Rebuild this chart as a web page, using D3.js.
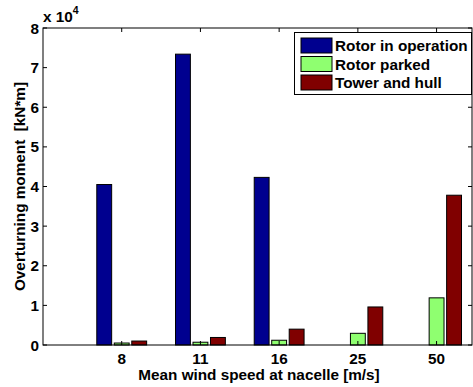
<!DOCTYPE html>
<html>
<head>
<meta charset="utf-8">
<script src="https://cdn.jsdelivr.net/npm/d3@7"></script>
<style>
  html, body { margin: 0; padding: 0; background: #fff; }
  svg { display: block; font-family: "Liberation Sans", Arial, Helvetica, sans-serif; font-weight: bold; }
</style>
</head>
<body>
<svg id="chart" width="473" height="387"></svg>
<script>
// ---- data (values in units of 10^4 kN*m) ----
const categories = ["8", "11", "16", "25", "50"];
const seriesNames = ["Rotor in operation", "Rotor parked", "Tower and hull"];
const rotorInOperation = [4.05, 7.34, 4.23, 0, 0];
const rotorParked = [0.05, 0.07, 0.12, 0.295, 1.19];
const towerAndHull = [0.10, 0.19, 0.40, 0.96, 3.78];
const yTicks = [0, 1, 2, 3, 4, 5, 6, 7, 8];
const colors = ["#00008f", "#8fff70", "#800000"];

const series = [rotorInOperation, rotorParked, towerAndHull];

const svg = d3.select("#chart");
const pL = 43, pR = 472, pT = 28, pB = 345;
const fs = 15.3;

const x = d3.scaleLinear().domain([0, 5.45]).range([pL, pR]);
const y = d3.scaleLinear().domain([0, 8]).range([pB, pT]);

const groupWidth = Math.min(0.8, 3 / (3 + 1.5));
const step = groupWidth / 3;
const barW = step * 0.85;

// bars
series.forEach((vals, si) => {
  svg.append("g").selectAll("rect").data(vals).join("rect")
    .attr("x", (d, i) => x(i + 1 + (si - 1) * step - barW / 2))
    .attr("width", x(barW) - x(0))
    .attr("y", d => y(d))
    .attr("height", d => y(0) - y(d))
    .attr("fill", colors[si])
    .attr("stroke", "#000")
    .attr("stroke-width", 1);
});

// axes box
svg.append("rect").attr("x", pL).attr("y", pT)
  .attr("width", pR - pL).attr("height", pB - pT)
  .attr("fill", "none").attr("stroke", "#000").attr("stroke-width", 1);

// y ticks (inward, both sides)
const tl = 4;
yTicks.forEach(t => {
  svg.append("line").attr("x1", pL).attr("x2", pL + tl)
    .attr("y1", y(t)).attr("y2", y(t)).attr("stroke", "#000");
  svg.append("line").attr("x1", pR).attr("x2", pR - tl)
    .attr("y1", y(t)).attr("y2", y(t)).attr("stroke", "#000");
  svg.append("text").attr("x", pL - 4).attr("y", y(t) + 5.5)
    .attr("text-anchor", "end").attr("font-size", fs).text(t);
});

// x ticks
categories.forEach((c, i) => {
  const xx = x(i + 1);
  svg.append("line").attr("x1", xx).attr("x2", xx)
    .attr("y1", pT).attr("y2", pT + tl).attr("stroke", "#000");
  svg.append("line").attr("x1", xx).attr("x2", xx)
    .attr("y1", pB).attr("y2", pB - tl).attr("stroke", "#000");
  svg.append("text").attr("x", xx).attr("y", 364)
    .attr("text-anchor", "middle").attr("font-size", fs).text(c);
});

// exponent label
const ex = svg.append("text").attr("x", 43).attr("y", 22).attr("font-size", fs);
ex.append("tspan").text("x 10");
ex.append("tspan").attr("font-size", 10.5).attr("dy", -8).text("4");

// axis labels
svg.append("text").attr("x", 259).attr("y", 380)
  .attr("text-anchor", "middle").attr("font-size", fs)
  .text("Mean wind speed at nacelle [m/s]");
svg.append("text")
  .attr("transform", `translate(25,${(pT + pB) / 2}) rotate(-90)`)
  .attr("text-anchor", "middle").attr("font-size", fs)
  .attr("xml:space", "preserve").style("white-space", "pre")
  .text("Overturning moment  [kN*m]");

// legend
const lg = svg.append("g");
lg.append("rect").attr("x", 294.5).attr("y", 32.5).attr("width", 177).attr("height", 62)
  .attr("fill", "#fff").attr("stroke", "#000");
seriesNames.forEach((n, i) => {
  const yy = 38 + i * 18.5;
  lg.append("rect").attr("x", 301).attr("y", yy).attr("width", 31).attr("height", 15)
    .attr("fill", colors[i]).attr("stroke", "#000");
  lg.append("text").attr("x", 335).attr("y", yy + 13).attr("font-size", fs).text(n);
});
</script>
</body>
</html>
